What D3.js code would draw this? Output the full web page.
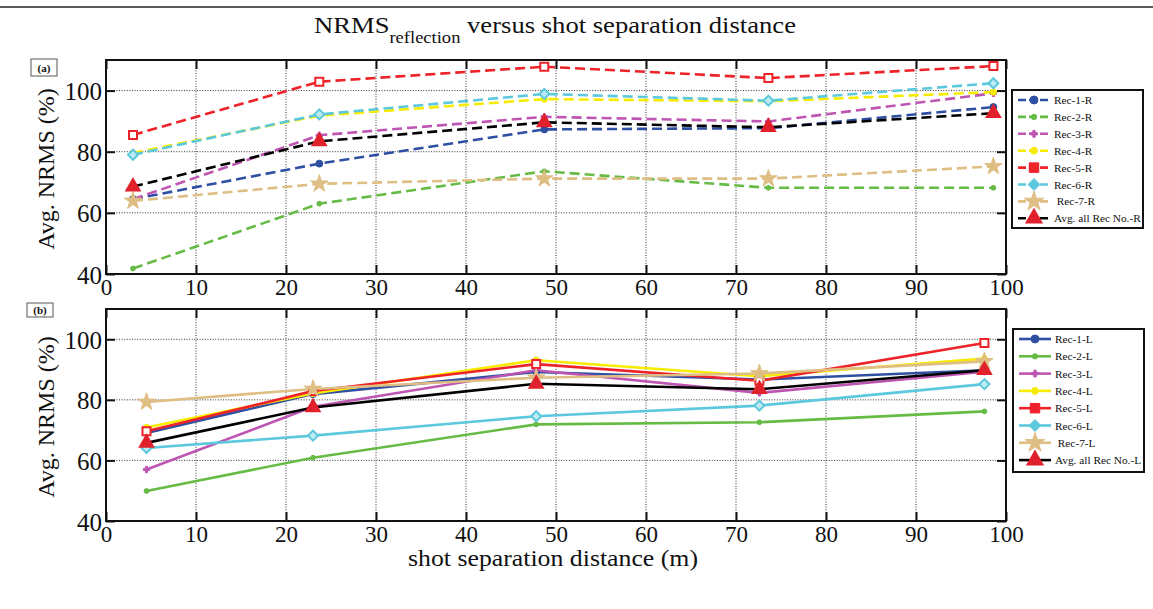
<!DOCTYPE html>
<html>
<head>
<meta charset="utf-8">
<script src="https://cdn.jsdelivr.net/npm/d3@7"></script>
<style>
  html, body { margin: 0; padding: 0; background: #fff; }
  svg { display: block; }
  svg text { font-family: "Liberation Serif", "DejaVu Serif", serif; }
</style>
</head>
<body>
<svg id="chart" width="1153" height="609"></svg>
<script>
// ---- data ----
const xTickValues = [0, 10, 20, 30, 40, 50, 60, 70, 80, 90, 100];
const yTickValues = [40, 60, 80, 100];

// shot separation distance (m) of the five measurements in each panel
const distR = [3, 23.7, 48.7, 73.6, 98.6];
const distL = [4.5, 23, 47.8, 72.6, 97.6];

const namesR = ["Rec-1-R", "Rec-2-R", "Rec-3-R", "Rec-4-R", "Rec-5-R", "Rec-6-R", " Rec-7-R", "Avg. all Rec No.-R"];
const namesL = ["Rec-1-L", "Rec-2-L", "Rec-3-L", "Rec-4-L", "Rec-5-L", "Rec-6-L", " Rec-7-L", "Avg. all Rec No.-L"];

// panel (a): reflection NRMS, right side receivers
const rec1R = [64.5, 76.1, 87.3, 87.7, 94.6];
const rec2R = [41.8, 63.0, 73.6, 68.2, 68.2];
const rec3R = [64.5, 85.4, 91.4, 89.9, 99.1];
const rec4R = [79.6, 91.8, 97.2, 96.5, 99.5];
const rec5R = [85.5, 102.9, 107.8, 104.1, 108.0];
const rec6R = [79.0, 92.2, 98.9, 96.7, 102.4];
const rec7R = [63.9, 69.5, 71.2, 71.2, 75.2];
const avgR  = [68.6, 83.4, 89.6, 88.0, 92.6];

// panel (b): reflection NRMS, left side receivers
const rec1L = [69.1, 81.9, 89.2, 86.7, 89.8];
const rec2L = [49.9, 60.9, 71.9, 72.6, 76.2];
const rec3L = [57.0, 77.7, 89.8, 82.3, 89.3];
const rec4L = [70.9, 82.1, 93.1, 87.8, 93.6];
const rec5L = [69.6, 82.9, 91.8, 86.3, 98.8];
const rec6L = [64.1, 68.2, 74.6, 78.1, 85.2];
const rec7L = [79.3, 83.6, 87.3, 88.7, 92.7];
const avgL  = [65.8, 77.5, 85.3, 83.5, 89.8];

// ---- styles per receiver ----
const styles = [
  { color: "#2f4fa2", marker: "circle",   size: 38,  legendSize: 50,  fill: "#2f4fa2" },
  { color: "#66bb44", marker: "dot",      size: 18,  legendSize: 22,  fill: "#66bb44" },
  { color: "#bf55b3", marker: "plus",     size: 22,  legendSize: 26,  fill: "#bf55b3" },
  { color: "#f7ec00", marker: "dot",      size: 30,  legendSize: 36,  fill: "#f7ec00" },
  { color: "#ee2229", marker: "square",   size: 64,  legendSize: 90,  fill: "#ffffff" },
  { color: "#5cc8dd", marker: "diamond",  size: 64,  legendSize: 90,  fill: "#bdeaf3" },
  { color: "#dfbe84", marker: "star",     size: 95,  legendSize: 120, fill: "#dfbe84" },
  { color: "#000000", marker: "triangle", size: 200, legendSize: 240, fill: "#e0202a" }
];

const symbolFor = {
  circle: d3.symbolCircle, dot: d3.symbolCircle, plus: d3.symbolCross,
  square: d3.symbolSquare, diamond: d3.symbolDiamond2, star: d3.symbolStar,
  triangle: d3.symbolTriangle2
};

const SERIF = "Liberation Serif, DejaVu Serif, serif";
const svg = d3.select("#chart").attr("font-family", SERIF);
const W = 1153;

// top rule
svg.append("line").attr("x1", 0).attr("x2", W).attr("y1", 7).attr("y2", 7)
  .attr("stroke", "#222").attr("stroke-width", 1.6);

// title
const title = svg.append("text").attr("x", 314).attr("y", 33)
  .attr("font-family", SERIF).attr("font-size", 23).attr("fill", "#111")
  .attr("textLength", 482).attr("lengthAdjust", "spacingAndGlyphs");
title.append("tspan").text("NRMS");
title.append("tspan").attr("font-size", 16).attr("dy", 10).text("reflection");
title.append("tspan").attr("dy", -10).text(" versus shot separation distance");

const x = d3.scaleLinear().domain([0, 100]).range([106, 1006]);

function panel(opts) {
  const { top, bottom, dist, series, names, dashed, tag, tagBox, legendBox } = opts;
  const y = d3.scaleLinear().domain([40, 110]).range([bottom, top]);
  const g = svg.append("g");

  // grid
  const grid = g.append("g");
  grid.selectAll("line.gx").data(xTickValues.filter(v => v > 0 && v < 100)).join("line")
    .attr("x1", d => x(d)).attr("x2", d => x(d)).attr("y1", top).attr("y2", bottom)
    .attr("stroke", "#333").attr("stroke-width", 1).attr("stroke-dasharray", "1,1.6");
  grid.selectAll("line.gy").data(yTickValues.filter(v => v > 40)).join("line")
    .attr("x1", x(0)).attr("x2", x(100)).attr("y1", d => y(d)).attr("y2", d => y(d))
    .attr("stroke", "#333").attr("stroke-width", 1).attr("stroke-dasharray", "1,1.6");

  // axes (inward ticks on all four sides)
  const tl = 9;
  g.append("g").attr("transform", `translate(0,${bottom})`)
    .call(d3.axisBottom(x).tickValues(xTickValues).tickSize(-tl).tickPadding(5))
    .attr("font-family", SERIF)
    .call(a => a.select(".domain").remove())
    .call(a => a.selectAll("line").attr("stroke", "#111").attr("stroke-width", 2))
    .call(a => a.selectAll("text").attr("font-size", 23).attr("fill", "#111")
      .attr("font-family", SERIF));
  g.append("g").attr("transform", `translate(0,${top})`)
    .call(d3.axisTop(x).tickValues(xTickValues).tickSize(-tl).tickFormat(""))
    .call(a => a.select(".domain").remove())
    .call(a => a.selectAll("line").attr("stroke", "#111").attr("stroke-width", 2));
  g.append("g").attr("transform", `translate(${x(0)},0)`)
    .call(d3.axisLeft(y).tickValues(yTickValues).tickSize(-tl).tickPadding(4))
    .attr("font-family", SERIF)
    .call(a => a.select(".domain").remove())
    .call(a => a.selectAll("line").attr("stroke", "#111").attr("stroke-width", 2))
    .call(a => a.selectAll("text").attr("font-size", 25).attr("fill", "#111")
      .attr("font-family", SERIF).attr("dy", "0.36em"));
  g.append("g").attr("transform", `translate(${x(100)},0)`)
    .call(d3.axisRight(y).tickValues(yTickValues).tickSize(-tl).tickFormat(""))
    .call(a => a.select(".domain").remove())
    .call(a => a.selectAll("line").attr("stroke", "#111").attr("stroke-width", 2));

  // frame
  g.append("rect").attr("x", x(0)).attr("y", top).attr("width", x(100) - x(0))
    .attr("height", bottom - top).attr("fill", "none").attr("stroke", "#111").attr("stroke-width", 2);

  // y label
  g.append("text").attr("transform", `translate(54,${(top + bottom) / 2 + 2}) rotate(-90)`)
    .attr("text-anchor", "middle").attr("font-family", SERIF).attr("font-size", 24).attr("fill", "#111")
    .text("Avg. NRMS (%)");

  // panel tag
  g.append("rect").attr("x", tagBox[0]).attr("y", tagBox[1]).attr("width", tagBox[2]).attr("height", tagBox[3])
    .attr("fill", "#fff").attr("stroke", "#555").attr("stroke-width", 1);
  g.append("text").attr("x", tagBox[0] + tagBox[2] / 2).attr("y", tagBox[1] + tagBox[3] / 2 + 4)
    .attr("text-anchor", "middle").attr("font-family", SERIF).attr("font-size", 11)
    .attr("font-weight", "bold").attr("fill", "#111")
    .text(tag);

  // series lines
  const line = d3.line().x((d, i) => x(dist[i])).y(d => y(d));
  const plot = g.append("g");
  series.forEach((vals, k) => {
    const s = styles[k];
    plot.append("path").attr("d", line(vals)).attr("fill", "none")
      .attr("stroke", s.color).attr("stroke-width", 2.6)
      .attr("stroke-dasharray", dashed ? "10,5" : null)
      .attr("stroke-linejoin", "round");
  });
  // series markers
  series.forEach((vals, k) => {
    const s = styles[k];
    const sym = d3.symbol().type(symbolFor[s.marker]).size(s.size);
    plot.selectAll(null).data(vals).join("path")
      .attr("transform", (d, i) => `translate(${x(dist[i])},${y(d)})`)
      .attr("d", sym)
      .attr("fill", s.fill)
      .attr("stroke", s.marker === "triangle" ? "none" : s.color)
      .attr("stroke-width", s.marker === "square" || s.marker === "diamond" ? 2 : 1);
  });

  // legend
  const [lx, ly, lw, lh, step] = legendBox;
  const lg = g.append("g");
  lg.append("rect").attr("x", lx).attr("y", ly).attr("width", lw).attr("height", lh)
    .attr("fill", "#fff").attr("stroke", "#111").attr("stroke-width", 2);
  names.forEach((nm, k) => {
    const s = styles[k];
    const cy = ly + 10 + step * k;
    lg.append("line").attr("x1", lx + 6).attr("x2", lx + 38).attr("y1", cy).attr("y2", cy)
      .attr("stroke", s.color).attr("stroke-width", 2.6)
      .attr("stroke-dasharray", dashed ? "8,3" : null);
    const sym = d3.symbol().type(symbolFor[s.marker]).size(s.legendSize);
    lg.append("path").attr("transform", `translate(${lx + 22},${cy})`).attr("d", sym)
      .attr("fill", s.marker === "triangle" ? s.fill : s.color)
      .attr("stroke", s.marker === "triangle" ? "none" : s.color)
      .attr("stroke-width", 1);
    lg.append("text").attr("x", lx + 42).attr("y", cy + 4).attr("font-family", SERIF)
      .attr("font-size", 11.3).attr("fill", "#111")
      .attr("xml:space", "preserve").text(nm);
  });
}

panel({
  top: 60, bottom: 274, dist: distR, dashed: true, tag: "(a)", names: namesR,
  series: [rec1R, rec2R, rec3R, rec4R, rec5R, rec6R, rec7R, avgR],
  tagBox: [31, 59, 26, 17],
  legendBox: [1012, 90, 131, 138, 16.9]
});

panel({
  top: 309, bottom: 521, dist: distL, dashed: false, tag: "(b)", names: namesL,
  series: [rec1L, rec2L, rec3L, rec4L, rec5L, rec6L, rec7L, avgL],
  tagBox: [27, 303, 26, 14],
  legendBox: [1013, 329, 131, 143, 17.3]
});

// x axis title
svg.append("text").attr("x", 408).attr("y", 566)
  .attr("font-family", SERIF).attr("font-size", 24).attr("fill", "#111")
  .attr("textLength", 290).attr("lengthAdjust", "spacingAndGlyphs")
  .text("shot separation distance (m)");
</script>
</body>
</html>
